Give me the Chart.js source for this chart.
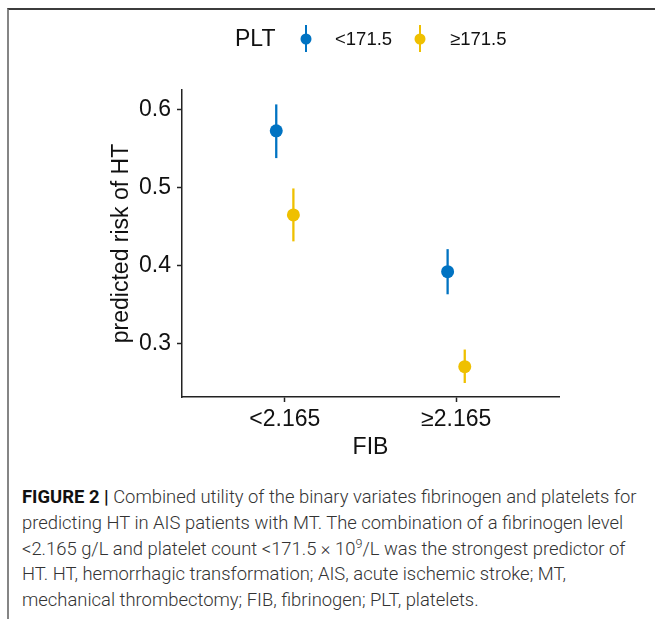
<!DOCTYPE html>
<html>
<head>
<meta charset="utf-8">
<script src="https://cdn.jsdelivr.net/npm/chart.js@4.4.1/dist/chart.umd.min.js"></script>
<style>
html,body{margin:0;padding:0;background:#fff;width:655px;height:619px;overflow:hidden;}
#frame{position:absolute;left:7px;top:8px;width:648px;height:611px;border-top:2px solid #3c3c3c;border-left:2px solid #858585;box-sizing:border-box;}
#chartbox{position:absolute;left:0;top:0;width:655px;height:470px;}
#caption{position:absolute;left:22px;top:484px;font-family:Roboto,'Liberation Sans',Arial,sans-serif;font-weight:300;color:#333;font-size:16px;line-height:25.8px;white-space:nowrap;}
#caption .ln{display:block;}
#caption b{font-weight:700;color:#111;}
#caption sup{font-size:0.68em;line-height:0;vertical-align:0.55em;}
</style>
</head>
<body>
<div id="frame"></div>
<div id="chartbox"><canvas id="c" width="655" height="470"></canvas></div>
<div id="caption">
<span class="ln" id="ln1"><b>FIGURE 2 |</b> Combined utility of the binary variates fibrinogen and platelets for</span>
<span class="ln">predicting HT in AIS patients with MT. The combination of a fibrinogen level</span>
<span class="ln">&lt;2.165 g/L and platelet count &lt;171.5 × 10<sup>9</sup>/L was the strongest predictor of</span>
<span class="ln">HT. HT, hemorrhagic transformation; AIS, acute ischemic stroke; MT,</span>
<span class="ln">mechanical thrombectomy; FIB, fibrinogen; PLT, platelets.</span>
</div>
<script>
// ---- data ----
const fibCategories = ['<2.165', '≥2.165'];
const pltGroups = ['<171.5', '≥171.5'];
const riskPltLow = [0.573, 0.392];
const lowerPltLow = [0.538, 0.363];
const upperPltLow = [0.607, 0.421];
const riskPltHigh = [0.465, 0.270];
const lowerPltHigh = [0.431, 0.249];
const upperPltHigh = [0.499, 0.292];
const yTicks = [0.3, 0.4, 0.5, 0.6];
const groupColors = ['#0073C2', '#EFC000'];
const DODGE = 0.1;
const FAMILY = '"Liberation Sans", Arial, Helvetica, sans-serif';

// fit caption width
(function(){
  const cap = document.getElementById('caption');
  const l1 = document.getElementById('ln1');
  const w = l1.getBoundingClientRect().width;
  const target = 615;
  cap.style.fontSize = (16 * target / w).toFixed(3) + 'px';
})();

const series = [
  {est: riskPltLow, lo: lowerPltLow, hi: upperPltLow},
  {est: riskPltHigh, lo: lowerPltHigh, hi: upperPltHigh}
];
const datasets = series.map((s, g) => ({
  label: pltGroups[g],
  data: s.est.map((v, i) => ({x: i + 1 + (g - 0.5) * DODGE, y: v, lo: s.lo[i], hi: s.hi[i]})),
  backgroundColor: groupColors[g],
  borderColor: groupColors[g],
  pointRadius: 6.5,
  pointHoverRadius: 6.5,
  pointBorderWidth: 0,
  showLine: false
}));

const errorBars = {
  id: 'errorBars',
  beforeDatasetsDraw(chart) {
    const {ctx, scales: {x, y}} = chart;
    chart.data.datasets.forEach(ds => {
      ctx.save();
      ctx.strokeStyle = ds.borderColor;
      ctx.lineWidth = 2.3;
      ds.data.forEach(p => {
        const px = x.getPixelForValue(p.x);
        ctx.beginPath();
        ctx.moveTo(px, y.getPixelForValue(p.lo));
        ctx.lineTo(px, y.getPixelForValue(p.hi));
        ctx.stroke();
      });
      ctx.restore();
    });
  }
};

const pltLegend = {
  id: 'pltLegend',
  afterDraw(chart) {
    const ctx = chart.ctx;
    const cy = 39;
    ctx.save();
    ctx.textBaseline = 'middle';
    ctx.textAlign = 'left';
    ctx.fillStyle = '#111';
    ctx.font = '23px ' + FAMILY;
    ctx.fillText('PLT', 235, cy + 1);
    const keyX = [306, 420];
    const labelX = [335, 450];
    ctx.font = '18.5px ' + FAMILY;
    chart.data.datasets.forEach((ds, g) => {
      ctx.strokeStyle = ds.borderColor;
      ctx.lineWidth = 2;
      ctx.beginPath();
      ctx.moveTo(keyX[g], 25);
      ctx.lineTo(keyX[g], 52);
      ctx.stroke();
      ctx.fillStyle = ds.backgroundColor;
      ctx.beginPath();
      ctx.arc(keyX[g], cy, 5.5, 0, Math.PI * 2);
      ctx.fill();
      ctx.fillStyle = '#111';
      ctx.fillText(ds.label, labelX[g], cy + 1);
    });
    ctx.restore();
  }
};

const axisGrid = {display: true, drawOnChartArea: false, drawTicks: true, tickLength: 5, color: '#222', tickWidth: 1.5};
const axisBorder = {display: true, color: '#222', width: 1.5};

new Chart(document.getElementById('c'), {
  type: 'scatter',
  data: {datasets},
  plugins: [errorBars, pltLegend],
  options: {
    responsive: false,
    animation: false,
    layout: {padding: {left: 0, right: 96, top: 90, bottom: 0}},
    plugins: {legend: {display: false}, tooltip: {enabled: false}},
    scales: {
      x: {
        type: 'linear', min: 0.4, max: 2.6,
        afterBuildTicks: s => { s.ticks = fibCategories.map((c, i) => ({value: i + 1})); },
        afterFit: s => { s.height = 73; },
        ticks: {callback: v => fibCategories[Math.round(v) - 1], color: '#111', font: {size: 23, family: FAMILY}, padding: 4, maxRotation: 0, autoSkip: false},
        grid: axisGrid,
        border: axisBorder,
        title: {display: true, text: 'FIB', color: '#111', font: {size: 23, family: FAMILY}, padding: {top: 0, bottom: 9}}
      },
      y: {
        type: 'linear', min: 0.231, max: 0.6255,
        afterBuildTicks: s => { s.ticks = yTicks.map(v => ({value: v})); },
        afterFit: s => { s.width = 182; },
        ticks: {callback: v => v.toFixed(1), color: '#111', font: {size: 23, family: FAMILY}, padding: 6},
        grid: axisGrid,
        border: axisBorder,
        title: {display: true, text: 'predicted risk of HT', color: '#111', font: {size: 23, family: FAMILY}, padding: {top: 108, bottom: 0}}
      }
    }
  }
});
</script>
</body>
</html>
